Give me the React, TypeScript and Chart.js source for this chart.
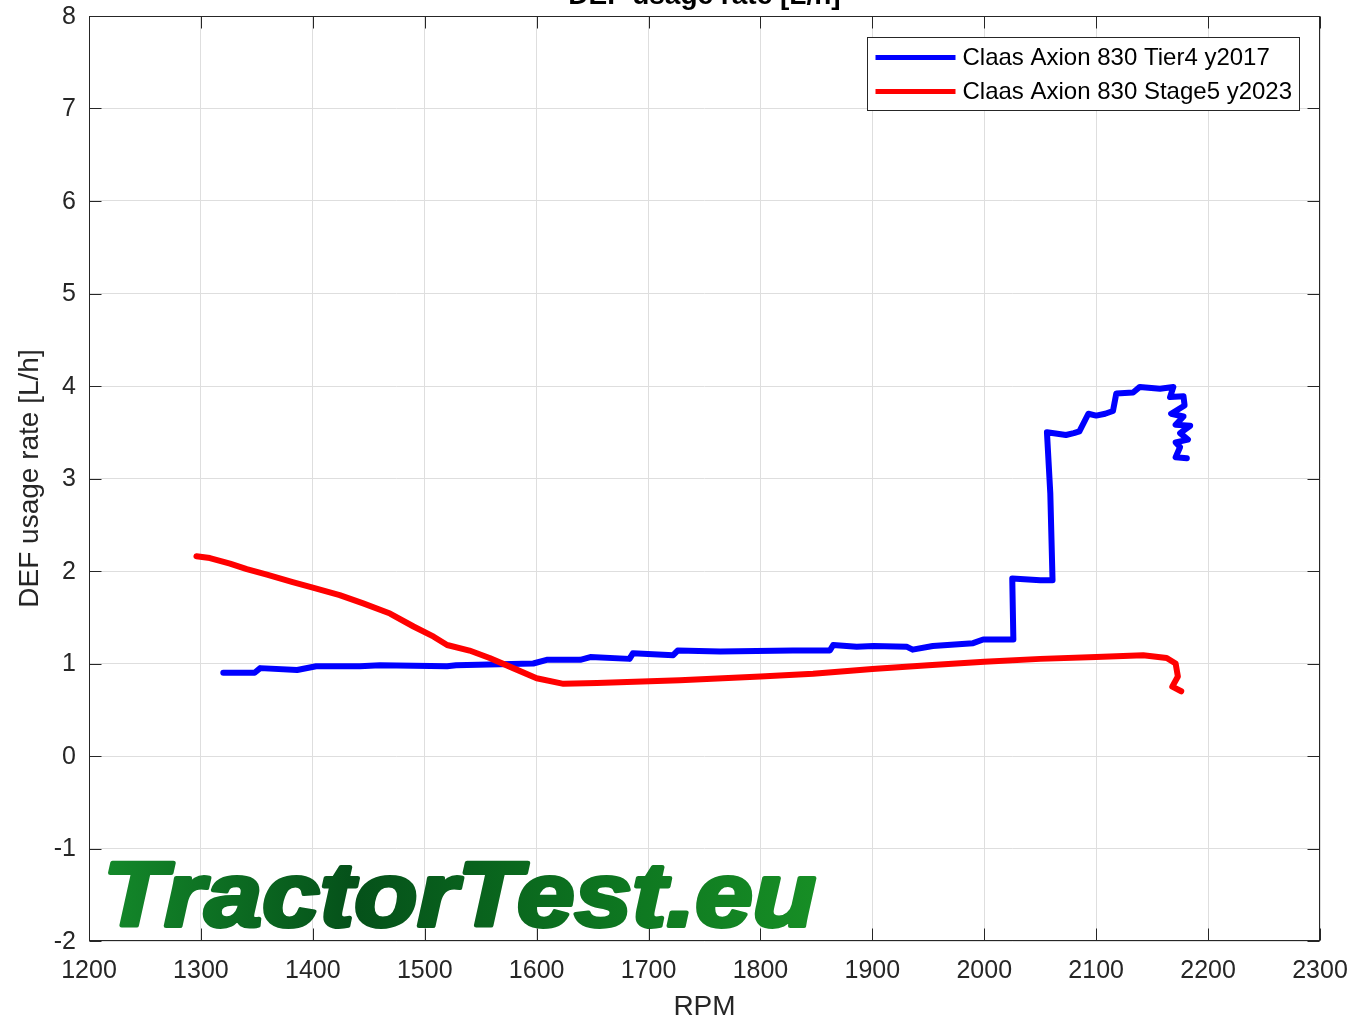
import React, { useEffect, useRef } from "react";
import { Chart, registerables } from "chart.js";

Chart.register(...registerables);

const chartTitle = "DEF usage rate [L/h]";
const xTitle = "RPM";
const yTitle = "DEF usage rate [L/h]";
const seriesLabels = ["Claas Axion 830 Tier4 y2017", "Claas Axion 830 Stage5 y2023"];
const seriesColors = ["#0000ff", "#ff0000"];
const watermark = "TractorTest.eu";

const xMin = 1200;
const xMax = 2300;
const xStep = 100;
const yMin = -2;
const yMax = 8;
const yStep = 1;

const blueRpm = [
  1320, 1348, 1353, 1386, 1403, 1442, 1460, 1520, 1528, 1597, 1609, 1639, 1648, 1683,
  1686, 1722, 1726, 1764, 1829, 1862, 1865, 1886, 1901, 1931, 1936, 1954, 1990, 1999,
  2026, 2025, 2050, 2061, 2059, 2056, 2073, 2080, 2085, 2093, 2100, 2108, 2115, 2118,
  2133, 2139, 2157, 2169, 2166, 2178, 2179, 2167, 2178, 2171, 2184, 2175, 2182, 2171,
  2175, 2171, 2181,
];
const blueRate = [
  0.9, 0.9, 0.95, 0.93, 0.97, 0.97, 0.98, 0.97, 0.98, 1.0, 1.04, 1.04, 1.07, 1.05,
  1.11, 1.09, 1.14, 1.13, 1.14, 1.14, 1.2, 1.18, 1.19, 1.18, 1.15, 1.19, 1.22, 1.26,
  1.26, 1.92, 1.9, 1.9, 2.84, 3.5, 3.47, 3.49, 3.51, 3.7, 3.68, 3.7, 3.73, 3.92,
  3.93, 3.99, 3.97, 3.99, 3.88, 3.89, 3.79, 3.7, 3.67, 3.58, 3.57, 3.49, 3.42, 3.39,
  3.34, 3.23, 3.22,
];

const redRpm = [
  1296, 1308, 1326, 1341, 1359, 1382, 1400, 1424, 1445, 1469, 1490, 1508, 1520, 1540,
  1558, 1579, 1600, 1624, 1654, 1728, 1800, 1847, 1900, 1950, 2000, 2050, 2100, 2142,
  2163, 2171, 2173, 2168, 2176,
];
const redRate = [
  2.16, 2.14, 2.08, 2.02, 1.96, 1.88, 1.82, 1.74, 1.65, 1.54, 1.4, 1.29, 1.2, 1.14,
  1.06, 0.95, 0.84, 0.78, 0.79, 0.82, 0.86, 0.89, 0.94, 0.98, 1.02, 1.05, 1.07, 1.09,
  1.06, 1.0, 0.86, 0.75, 0.7,
];

const FONT = '"Liberation Sans", Arial, Helvetica, sans-serif';
const AXIS_COLOR = "#262626";

const decorPlugin = {
  id: "decor",
  afterDatasetsDraw(chart: any) {
    const { ctx, chartArea: a, scales } = chart;
    const xs = scales.x;
    const ys = scales.y;

    // watermark
    ctx.save();
    ctx.font = `italic bold 90px ${FONT}`;
    const w = ctx.measureText(watermark).width;
    const left = a.left + 14;
    const right = a.left + 727;
    const base = a.bottom - 15;
    ctx.translate(left, base);
    ctx.scale((right - left) / w, 1);
    const g = ctx.createLinearGradient(0, 0, w, 0);
    g.addColorStop(0, "#14892a");
    g.addColorStop(0.35, "#05511a");
    g.addColorStop(0.7, "#0d7420");
    g.addColorStop(1, "#178e25");
    ctx.fillStyle = g;
    ctx.strokeStyle = g;
    ctx.lineWidth = 4;
    ctx.lineJoin = "round";
    ctx.textBaseline = "alphabetic";
    ctx.fillText(watermark, 0, 0);
    ctx.strokeText(watermark, 0, 0);
    ctx.restore();

    // box and inward ticks
    ctx.save();
    ctx.strokeStyle = AXIS_COLOR;
    ctx.lineWidth = 1;
    const L = Math.round(a.left) + 0.5;
    const R = Math.round(a.right) - 0.5;
    const T = Math.round(a.top) + 0.5;
    const B = Math.round(a.bottom) - 0.5;
    ctx.strokeRect(L, T, R - L, B - T);
    const tl = 12;
    ctx.beginPath();
    for (let v = xMin; v <= xMax; v += xStep) {
      const px = Math.round(xs.getPixelForValue(v)) + 0.5;
      ctx.moveTo(px, B);
      ctx.lineTo(px, B - tl);
      ctx.moveTo(px, T);
      ctx.lineTo(px, T + tl);
    }
    for (let v = yMin; v <= yMax; v += yStep) {
      const py = Math.round(ys.getPixelForValue(v)) + 0.5;
      ctx.moveTo(L, py);
      ctx.lineTo(L + tl, py);
      ctx.moveTo(R, py);
      ctx.lineTo(R - tl, py);
    }
    ctx.stroke();

    // title (partly cut at top)
    ctx.fillStyle = "#000";
    ctx.font = `bold 28px ${FONT}`;
    ctx.textAlign = "center";
    ctx.textBaseline = "alphabetic";
    ctx.fillText(chartTitle, (a.left + a.right) / 2, a.top - 12);

    // legend
    const lw = 432;
    const lh = 73;
    const lx = Math.round(a.right - 21 - lw) + 0.5;
    const ly = Math.round(a.top + 21) + 0.5;
    ctx.fillStyle = "#fff";
    ctx.fillRect(lx, ly, lw, lh);
    ctx.strokeStyle = AXIS_COLOR;
    ctx.lineWidth = 1;
    ctx.strokeRect(lx, ly, lw, lh);
    ctx.font = `24px ${FONT}`;
    ctx.textAlign = "left";
    ctx.textBaseline = "middle";
    seriesLabels.forEach((lab, i) => {
      const cy = ly + 20 + i * 34;
      ctx.strokeStyle = seriesColors[i];
      ctx.lineWidth = 5;
      ctx.beginPath();
      ctx.moveTo(lx + 8, cy);
      ctx.lineTo(lx + 88, cy);
      ctx.stroke();
      ctx.fillStyle = "#000";
      ctx.fillText(lab, lx + 95, cy + 1);
    });
    ctx.restore();
  },
};

export default function App() {
  const ref = useRef<HTMLCanvasElement | null>(null);

  useEffect(() => {
    if (!ref.current) return;
    const blueData = blueRpm.map((x, i) => ({ x, y: blueRate[i] }));
    const redData = redRpm.map((x, i) => ({ x, y: redRate[i] }));
    const chart = new Chart(ref.current, {
      type: "line",
      data: {
        datasets: [
          {
            label: seriesLabels[0],
            data: blueData,
            borderColor: seriesColors[0],
            backgroundColor: seriesColors[0],
            borderWidth: 6,
            pointRadius: 0,
            tension: 0,
            fill: false,
            borderJoinStyle: "round",
            borderCapStyle: "round",
            order: 1,
          },
          {
            label: seriesLabels[1],
            data: redData,
            borderColor: seriesColors[1],
            backgroundColor: seriesColors[1],
            borderWidth: 6,
            pointRadius: 0,
            tension: 0,
            fill: false,
            borderJoinStyle: "round",
            borderCapStyle: "round",
            order: 0,
          },
        ],
      },
      options: {
        responsive: false,
        animation: false,
        events: [],
        layout: { padding: { top: 16, right: 33, left: 0, bottom: 0 } },
        plugins: {
          legend: { display: false },
          tooltip: { enabled: false },
          title: { display: false },
        },
        scales: {
          x: {
            type: "linear",
            min: xMin,
            max: xMax,
            afterFit: (s: any) => {
              s.height = 83;
              s.paddingLeft = 0;
              s.paddingRight = 0;
            },
            ticks: {
              stepSize: xStep,
              color: AXIS_COLOR,
              font: { family: FONT, size: 25 },
              padding: 15,
              maxRotation: 0,
              autoSkip: false,
              callback: (v: any) => String(v),
            },
            grid: { color: "#dedede", lineWidth: 1, drawTicks: false },
            border: { display: false },
            title: {
              display: true,
              text: xTitle,
              color: AXIS_COLOR,
              font: { family: FONT, size: 28 },
              padding: { top: 0, bottom: 0 },
            },
          },
          y: {
            type: "linear",
            min: yMin,
            max: yMax,
            afterFit: (s: any) => {
              s.width = 89;
              s.paddingTop = 0;
              s.paddingBottom = 0;
            },
            ticks: {
              stepSize: yStep,
              color: AXIS_COLOR,
              font: { family: FONT, size: 25 },
              padding: 13,
              labelOffset: 1,
              autoSkip: false,
              callback: (v: any) => String(v),
            },
            grid: { color: "#dedede", lineWidth: 1, drawTicks: false },
            border: { display: false },
            title: {
              display: true,
              text: yTitle,
              color: AXIS_COLOR,
              font: { family: FONT, size: 28 },
              padding: { top: 13, bottom: 0 },
            },
          },
        },
      },
      plugins: [decorPlugin],
    });
    return () => chart.destroy();
  }, []);

  return (
    <div style={{ position: "absolute", left: 0, top: 0, width: 1353, height: 1024, background: "#fff" }}>
      <canvas ref={ref} width={1353} height={1024} />
    </div>
  );
}
